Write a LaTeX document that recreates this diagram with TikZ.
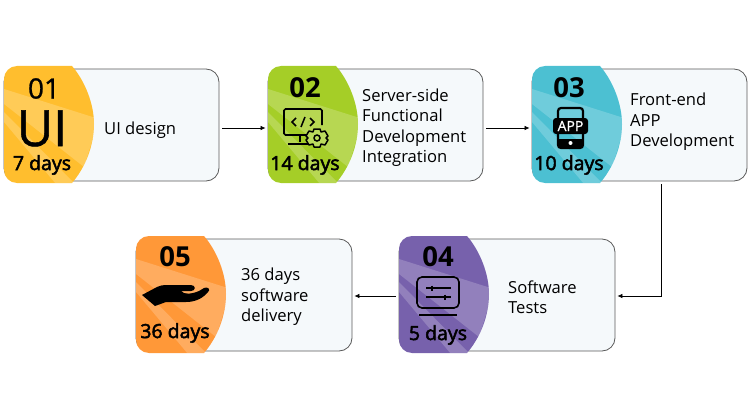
\documentclass[tikz,border=0pt]{standalone}
\usepackage{fontspec}
\setmainfont{Open Sans}
\newfontfamily\semifont[FakeBold=2.6]{Open Sans}
\newfontfamily\halffont[FakeBold=1]{Open Sans}
\usetikzlibrary{arrows.meta,calc}
\definecolor{cardfill}{HTML}{F5F9FB}
\definecolor{cardline}{HTML}{5A5A5A}
\definecolor{uiyellow}{HTML}{FFBE2E}
\definecolor{srvgreen}{HTML}{A5CE27}
\definecolor{appteal}{HTML}{4CC0D2}
\definecolor{testpurple}{HTML}{7761AC}
\definecolor{shiporange}{HTML}{FF9838}
\tikzset{
  card/.style={draw=cardline, fill=cardfill, line width=.8pt, rounded corners=13pt, minimum width=#1, minimum height=112pt, inner sep=0pt},
  cardtext/.style={align=left, anchor=west, font=\fontsize{16.6}{20.5}\selectfont, inner sep=0pt},
  stepnum/.style={font=\fontsize{27.5}{27.5}\selectfont\bfseries, inner sep=0pt},
  daytext/.style={font=\fontsize{19.5}{19.5}\semifont, inner sep=0pt},
  flow/.style={draw=black, line width=.7pt, -{Latex[length=5pt,width=4.5pt]}, shorten >=2pt, shorten <=3pt},
  pics/badge/.style={code={
    \fill[#1] (13,0) -- (68,0) .. controls (81,15) and (90,38) .. (90,58) .. controls (90,80) and (81,102) .. (68,117) -- (13,117) arc[start angle=270, end angle=180, x radius=13, y radius=-13] -- (0,13) arc[start angle=180, end angle=90, x radius=13, y radius=-13] -- cycle;
    \begin{scope}
      \clip (13,0) -- (68,0) .. controls (81,15) and (90,38) .. (90,58) .. controls (90,80) and (81,102) .. (68,117) -- (13,117) arc[start angle=270, end angle=180, x radius=13, y radius=-13] -- (0,13) arc[start angle=180, end angle=90, x radius=13, y radius=-13] -- cycle;
      \fill[white, opacity=.2] (0,23) -- (95,53) -- (80,101) -- (0,38) -- cycle;
      \fill[white, opacity=.2] (0,46) -- (71,118) -- (52,118) -- (0,56) -- cycle;
    \end{scope}
  }}
}
\begin{document}
\begin{tikzpicture}[x=1pt, y=-1pt]
  \useasboundingbox (0,0) rectangle (750,420);

  %cards
  \node[card=215pt] (card1) at (111.5,125) {};
  \node[card=215pt] (card2) at (375.5,125) {};
  \node[card=215pt] (card3) at (639.5,125) {};
  \node[card=216pt] (card4) at (507,295) {};
  \node[card=216pt] (card5) at (244,295) {};

  %badges
  \pic at (4,66) {badge=uiyellow};
  \pic at (268,66) {badge=srvgreen};
  \pic at (532,66) {badge=appteal};
  \pic at (399,236) {badge=testpurple};
  \pic at (136,236) {badge=shiporange};

  %numbers
  \node[inner sep=0pt, font=\fontsize{28}{28}\halffont] (num1) at (44,88.5) {01};
  \node[stepnum] (num2) at (305,88) {02};
  \node[stepnum] (num3) at (569,88) {03};
  \node[stepnum] (num4) at (438,257) {04};
  \node[stepnum] (num5) at (175,257) {05};

  %days
  \node[daytext] (days1) at (42,165) {7 days};
  \node[daytext] (days2) at (305,165) {14 days};
  \node[daytext] (days3) at (569,165) {10 days};
  \node[daytext] (days4) at (438,335) {5 days};
  \node[daytext] (days5) at (175,333) {36 days};

  %texts
  \node[cardtext] (text1) at (104,130) {UI design};
  \node[cardtext] (text2) at (362,127.5) {Server-side\\Functional\\Development\\Integration};
  \node[cardtext] (text3) at (630,122) {Front-end\\APP\\Development};
  \node[cardtext] (text4) at (508,297) {Software\\Tests};
  \node[cardtext] (text5) at (241,297) {36 days\\software\\delivery};

  %icon 1
  \node[inner sep=0pt, text height=36pt, text depth=0pt, font=\fontsize{50}{50}\halffont] (iconui) at (42,128) {UI};

  %icon 2
  \draw[line width=1.6pt, rounded corners=1.5pt] (309,135) -- (284,135) -- (284,109) -- (322,109) -- (322,125);
  \draw[line width=1.6pt] (300,135) -- (300,142) (288,144) -- (308,144);
  \draw[line width=1.5pt] (296,118) -- (292,122) -- (296,126) (310,118) -- (314,122) -- (310,126) (305,117) -- (301,127);
  \draw[line width=1.5pt, line join=round, fill=srvgreen!75!white] (314,129) -- (320,129) -- (321,132) -- (325,131) -- (328,136) -- (326,138) -- (328,140) -- (325,145) -- (321,144) -- (320,147) -- (314,147) -- (313,144) -- (309,145) -- (306,140) -- (308,138) -- (306,136) -- (309,131) -- (313,132) -- cycle;
  \draw[line width=1.5pt] (317,138) circle (3pt);

  %icon 3
  \draw[line width=2.2pt, rounded corners=3pt] (558,108) rectangle (583,148);
  \fill (558,139) rectangle (583,148);
  \fill[rounded corners=3pt] (553,118) rectangle (588,134);
  \node[text=white, inner sep=0pt, font=\fontsize{14}{14}\halffont] (iconapp) at (570.5,126) {APP};
  \fill[white] (570.5,143) circle (2pt);

  %icon 4
  \draw[line width=1.6pt, rounded corners=5pt] (417,277) rectangle (459,308);
  \draw[line width=1.5pt] (426,288) -- (451,288) (426,297) -- (451,297) (419,315) -- (457,315);
  \draw[line width=2.5pt] (432,285.5) -- (432,290.5) (445,294.5) -- (445,299.5);

  %icon 5
  \fill (142,295) -- (157,287) .. controls (160,285.5) and (163,285) .. (166,285) -- (191,285) .. controls (196,285) and (196,291) .. (191,291) -- (181,291) .. controls (184,295) and (192,294) .. (199,291) -- (204,288) .. controls (208,286) and (211,290) .. (208,292) .. controls (204,297) and (197,302) .. (186,302) -- (166,302) -- (155,306) -- cycle;

  %arrows
  \draw[flow] ([yshift=-3pt]card1.east) -- ([yshift=-3pt]card2.west);
  \draw[flow] ([yshift=-3pt]card2.east) -- ([yshift=-3pt]card3.west);
  \draw[flow] ([xshift=21.5pt]card3.south) |- ([yshift=-1pt]card4.east);
  \draw[flow] ([yshift=-1pt]card4.west) -- ([yshift=-1pt]card5.east);
\end{tikzpicture}
\end{document}
